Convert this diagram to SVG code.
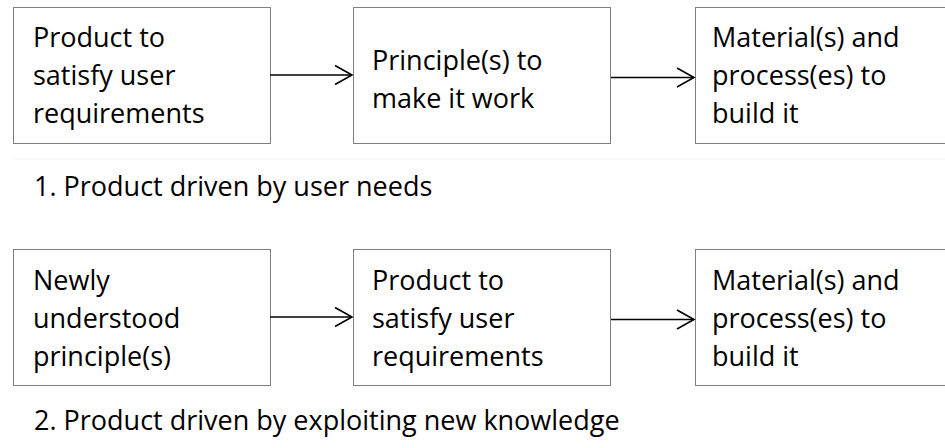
<svg xmlns="http://www.w3.org/2000/svg" width="945" height="448" viewBox="0 0 945 448">
  <style>
    .box { fill: #ffffff; stroke: #7f7f7f; stroke-width: 1; }
    .lbl { font-family: "Open Sans", "Liberation Sans", sans-serif; font-size: 27px; fill: #000000; }
    .edge { stroke: #000000; stroke-width: 1.6; fill: none; }
    .head { stroke: #000000; stroke-width: 1.6; fill: none; stroke-linejoin: miter; }
  </style>
  <rect width="945" height="448" fill="#ffffff"/>
  <!-- faint separator under the first row -->
  <line x1="13" y1="159" x2="945" y2="159" stroke="#f3f3f3" stroke-width="1"/>

  <!-- Row 1: product driven by user needs -->
  <g id="r1-product">
    <rect class="box" x="13.5" y="7.5" width="257" height="136"/>
    <text class="lbl" x="33" y="47">Product to</text>
    <text class="lbl" x="33" y="85">satisfy user</text>
    <text class="lbl" x="33" y="123">requirements</text>
  </g>
  <g id="r1-principle">
    <rect class="box" x="353.5" y="7.5" width="257" height="136"/>
    <text class="lbl" x="372" y="70">Principle(s) to</text>
    <text class="lbl" x="372" y="108">make it work</text>
  </g>
  <g id="r1-material">
    <rect class="box" x="695.5" y="7.5" width="270" height="136"/>
    <text class="lbl" x="712" y="47">Material(s) and</text>
    <text class="lbl" x="712" y="85">process(es) to</text>
    <text class="lbl" x="712" y="123">build it</text>
  </g>
  <text id="caption1" class="lbl" x="34" y="196">1. Product driven by user needs</text>

  <!-- Row 2: product driven by exploiting new knowledge -->
  <g id="r2-principle">
    <rect class="box" x="13.5" y="249.5" width="257" height="136"/>
    <text class="lbl" x="33" y="290">Newly</text>
    <text class="lbl" x="33" y="328">understood</text>
    <text class="lbl" x="33" y="366">principle(s)</text>
  </g>
  <g id="r2-product">
    <rect class="box" x="353.5" y="249.5" width="257" height="136"/>
    <text class="lbl" x="372" y="290">Product to</text>
    <text class="lbl" x="372" y="328">satisfy user</text>
    <text class="lbl" x="372" y="366">requirements</text>
  </g>
  <g id="r2-material">
    <rect class="box" x="695.5" y="249.5" width="270" height="136"/>
    <text class="lbl" x="712" y="290">Material(s) and</text>
    <text class="lbl" x="712" y="328">process(es) to</text>
    <text class="lbl" x="712" y="366">build it</text>
  </g>
  <text id="caption2" class="lbl" x="34" y="430">2. Product driven by exploiting new knowledge</text>

  <!-- connectors with open chevron heads -->
  <g id="connectors">
    <line class="edge" x1="270" y1="75" x2="352" y2="75"/>
    <polyline class="head" points="335,65.5 352,75 335,84.5"/>
    <line class="edge" x1="611" y1="77.5" x2="694" y2="77.5"/>
    <polyline class="head" points="677,68 694,77.5 677,87"/>
    <line class="edge" x1="270" y1="317" x2="352" y2="317"/>
    <polyline class="head" points="335,307.5 352,317 335,326.5"/>
    <line class="edge" x1="611" y1="319.5" x2="694" y2="319.5"/>
    <polyline class="head" points="677,310 694,319.5 677,329"/>
  </g>
</svg>
